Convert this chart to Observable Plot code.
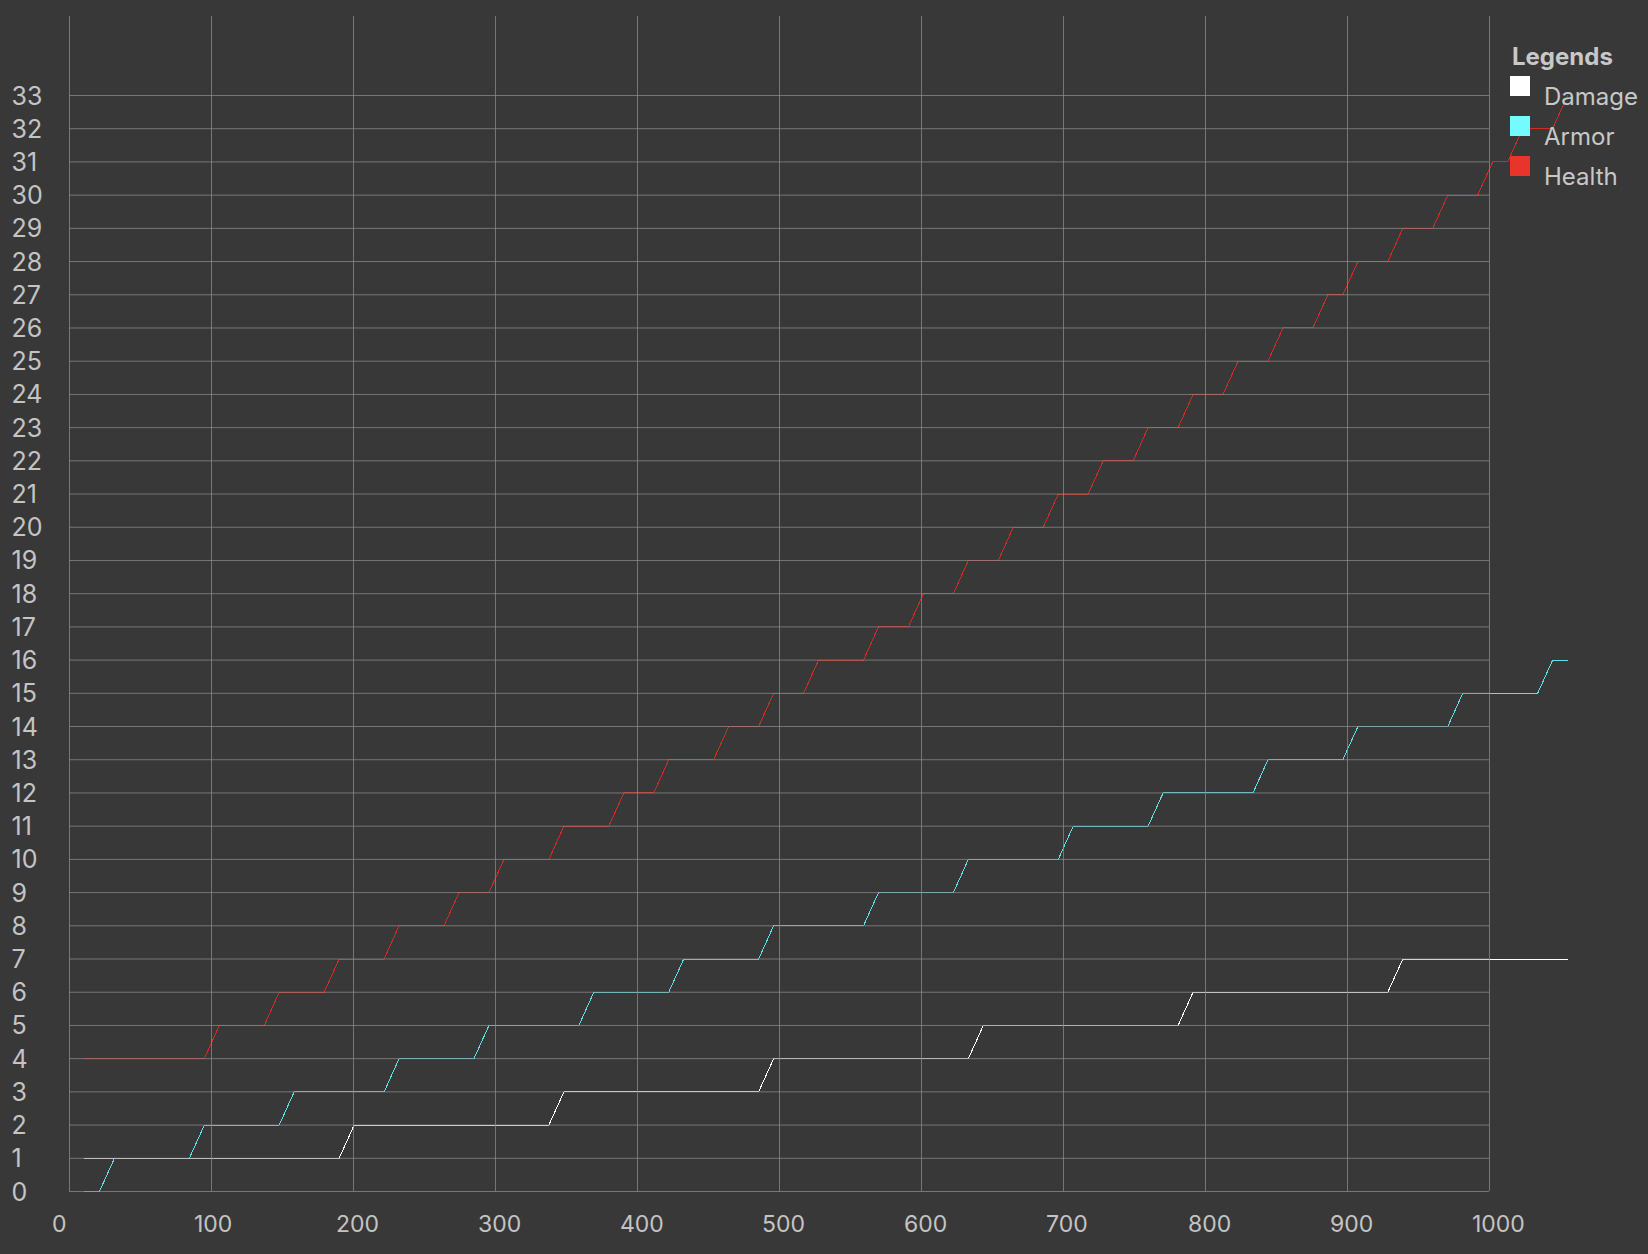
<!DOCTYPE html>
<html>
<head>
<meta charset="utf-8">
<script src="https://cdn.jsdelivr.net/npm/d3@7"></script>
<script src="https://cdn.jsdelivr.net/npm/@observablehq/plot@0.6"></script>
<style>
  html, body { margin: 0; padding: 0; background: #383838; }
  #wrap { position: relative; width: 1648px; height: 1254px; overflow: hidden; }
  #legend { position: absolute; left: 0; top: 0; pointer-events: none; }
  #legend text { font-family: Inter, "Noto Sans", sans-serif; fill: #c8c8c8; }
</style>
</head>
<body>
<div id="wrap"></div>
<script>
// ---- data ----
const xTicks = [0, 100, 200, 300, 400, 500, 600, 700, 800, 900, 1000];
const yTicks = [0,1,2,3,4,5,6,7,8,9,10,11,12,13,14,15,16,17,18,19,20,21,22,23,24,25,26,27,28,29,30,31,32,33];

const seriesNames = ["Damage", "Armor", "Health"];
const seriesColors = ["#ffffff", "#5fe0e6", "#d02c22"];
const legendColors = ["#ffffff", "#73fbfd", "#e8342a"];

const damageX = [10.55, 189.9, 200.45, 337.6, 348.15, 485.3, 495.85, 633.0, 643.55, 780.7, 791.25, 928.4, 938.95, 1055];
const damageY = [1, 1, 2, 2, 3, 3, 4, 4, 5, 5, 6, 6, 7, 7];

const armorX = [10.55, 21.1, 31.65, 84.4, 94.95, 147.7, 158.25, 221.55, 232.1, 284.85, 295.4, 358.7, 369.25, 422.0, 432.55, 485.3, 495.85, 559.15, 569.7, 622.45, 633.0, 696.3, 706.85, 759.6, 770.15, 833.45, 844.0, 896.75, 907.3, 970.6, 981.15, 1033.9, 1044.45, 1055];
const armorY = [0, 0, 1, 1, 2, 2, 3, 3, 4, 4, 5, 5, 6, 6, 7, 7, 8, 8, 9, 9, 10, 10, 11, 11, 12, 12, 13, 13, 14, 14, 15, 15, 16, 16];

const healthX = [10.55, 94.95, 105.5, 137.15, 147.7, 179.35, 189.9, 221.55, 232.1, 263.75, 274.3, 295.4, 305.95, 337.6, 348.15, 379.8, 390.35, 411.45, 422.0, 453.65, 464.2, 485.3, 495.85, 516.95, 527.5, 559.15, 569.7, 590.8, 601.35, 622.45, 633.0, 654.1, 664.65, 685.75, 696.3, 717.4, 727.95, 749.05, 759.6, 780.7, 791.25, 812.35, 822.9, 844.0, 854.55, 875.65, 886.2, 896.75, 907.3, 928.4, 938.95, 960.05, 970.6, 991.7, 1002.25, 1012.8, 1023.35, 1044.45, 1055];
const healthY = [4, 4, 5, 5, 6, 6, 7, 7, 8, 8, 9, 9, 10, 10, 11, 11, 12, 12, 13, 13, 14, 14, 15, 15, 16, 16, 17, 17, 18, 18, 19, 19, 20, 20, 21, 21, 22, 22, 23, 23, 24, 24, 25, 25, 26, 26, 27, 27, 28, 28, 29, 29, 30, 30, 31, 31, 32, 32, 33];

// ---- build tables ----
const toRows = (xs, ys, name) => xs.map((x, i) => ({x, y: ys[i], series: name}));
const rows = [
  ...toRows(healthX, healthY, "Health"),
  ...toRows(armorX, armorY, "Armor"),
  ...toRows(damageX, damageY, "Damage")
];

const gridColor = "#8c8c8c";
const textColor = "#c4c4c4";
const font = "Inter, 'Noto Sans', sans-serif";

const chart = Plot.plot({
  width: 1648,
  height: 1254,
  marginTop: 16,
  marginBottom: 63,
  marginLeft: 69,
  marginRight: 80,
  style: {background: "#383838", fontFamily: font, color: textColor, overflow: "visible"},
  x: {domain: [0, 1000], range: [69, 1489], axis: null},
  y: {domain: [0, 33], range: [1191, 95], axis: null},
  color: {domain: seriesNames, range: seriesColors},
  marks: [
    Plot.line(rows, {x: "x", y: "y", z: "series", stroke: "series", strokeWidth: 1, shapeRendering: "crispEdges"}),
    Plot.ruleX(xTicks, {x: d => d, stroke: gridColor, strokeOpacity: 0.74, strokeWidth: 1}),
    Plot.ruleY(yTicks, {y: d => d, x1: 0, x2: 1000, stroke: gridColor, strokeOpacity: 0.74, strokeWidth: 1}),
    Plot.text(xTicks, {x: d => d, y: 0, text: d => String(d), textAnchor: "start", lineAnchor: "bottom", dx: -17.5, dy: 40, fontSize: 23, fill: textColor}),
    Plot.text(yTicks, {x: 0, y: d => d, text: d => String(d), textAnchor: "start", lineAnchor: "middle", dx: -58, dy: 1, fontSize: 25, fill: textColor})
  ]
});

const wrap = document.getElementById("wrap");
wrap.appendChild(chart);

// ---- legend overlay ----
const ns = "http://www.w3.org/2000/svg";
const lg = document.createElementNS(ns, "svg");
lg.setAttribute("id", "legend");
lg.setAttribute("width", 1648);
lg.setAttribute("height", 1254);
const title = document.createElementNS(ns, "text");
title.setAttribute("x", 1512);
title.setAttribute("y", 65);
title.setAttribute("font-size", 24);
title.setAttribute("font-weight", "bold");
title.textContent = "Legends";
lg.appendChild(title);
seriesNames.forEach((name, i) => {
  const r = document.createElementNS(ns, "rect");
  r.setAttribute("x", 1510);
  r.setAttribute("y", 76 + 40 * i);
  r.setAttribute("width", 20);
  r.setAttribute("height", 20);
  r.setAttribute("fill", legendColors[i]);
  lg.appendChild(r);
  const t = document.createElementNS(ns, "text");
  t.setAttribute("x", 1544);
  t.setAttribute("y", 105 + 40 * i);
  t.setAttribute("font-size", 24);
  t.textContent = name;
  lg.appendChild(t);
});
wrap.appendChild(lg);
</script>
</body>
</html>
